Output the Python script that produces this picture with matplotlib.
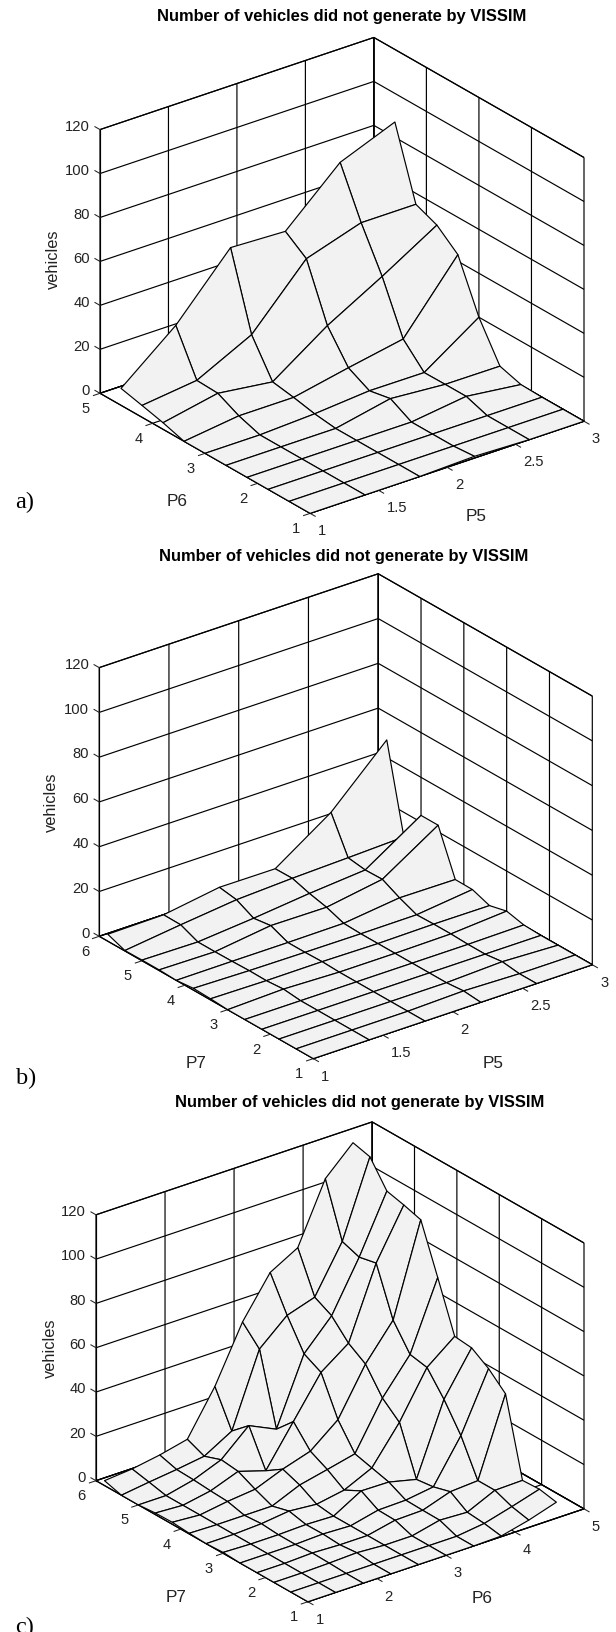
import numpy as np
import matplotlib
matplotlib.use("Agg")
import matplotlib.pyplot as plt
from matplotlib.transforms import Affine2D
from mpl_toolkits.mplot3d import proj3d

plt.rcParams.update({
    'font.family': 'Liberation Sans', 'font.size': 10,
    'grid.color': 'k', 'grid.linewidth': 0.85,
    'axes.linewidth': 0.85, 'xtick.major.width': 0.75, 'ytick.major.width': 0.75,
})

TITLE = 'Number of vehicles did not generate by VISSIM'
Z_TICKS = [0, 20, 40, 60, 80, 100, 120]

P5 = [1, 1.4, 1.8, 2.2, 2.6, 3]
P6 = [1, 1.4, 1.8, 2.2, 2.6, 3, 3.4, 3.8, 4.2, 4.6]
P7 = [1, 1.4, 1.8, 2.2, 2.6, 3, 3.4, 3.8, 4.2, 4.6, 5, 5.4, 5.8]

# rows: P6, columns: P5
Z_A = [
    [0, 0, 0, 0.8, 0, 0],
    [0, 0, 0, 0, 0, 0],
    [0, 0, 0, 0, 0, 0],
    [0, 0, 0, 0, 3.3, 0.3],
    [0, 0, 0, 5.2, 3.3, 3.2],
    [0, 0, 1.2, 3.3, 3.2, 20],
    [0, 3.2, 3.2, 8.3, 13, 43],
    [3, 8, 4.8, 22, 36, 51],
    [5.4, 8.4, 20.8, 47, 55, 55],
    [7.7, 28, 55, 54, 77, 87],
]
# rows: P7, columns: P5
Z_B = [
    [0, 0, 0, 0, 0, 0],
    [0, 0, 0, 0.7, 0, 0],
    [0, 0, 0, 0, 1, 0],
    [0, 0, 0, 0, 0, 0],
    [0, 0, 0, 0, 0, 0.3],
    [0, 0.8, 0, 0, 0.3, 2.1],
    [0.5, 0.2, 0.3, 0, 0.3, 0.2],
    [0.8, 0.3, 0.1, 0, 0.1, 3],
    [0, 0.1, 0.1, 0.3, 3.3, 3.1],
    [0.3, 0, 3.3, 3.1, 7.2, 23],
    [0.3, 0, 2.2, 4.9, 7, 23],
    [0.2, 3.3, 6.1, 7.3, 8.1, 9],
    [3.1, 3.4, 7.3, 7.2, 24, 48],
]
# rows: P7, columns: P6
Z_C = [
    [0, 0, 0, 0, 0, 0, 0, 0.3, 3.3, 7.2],
    [0, 0, 0, 0, 0, 0, 0, 1.6, 5, 8.7],
    [0, 0, 0.3, 0.8, 0, 0, 2.9, 2.3, 8, 8.3],
    [0, 0, 0.5, 0, 0, 2.7, 3, 7.2, 8, 43],
    [0, 0, 0, 0.5, 0, 2.9, 3.2, 5, 24, 50],
    [0.4, 0, 0, 0.4, 0, 7.2, 7, 4, 36, 55],
    [0, 0, 0.6, 2.1, 1, 3.2, 9, 25.4, 46, 55.8],
    [0.3, 0, 0, 0, 5.3, 8.1, 11, 32, 47.5, 78],
    [0.9, 0, 1.9, 3.2, 8.1, 12, 22, 43, 58.6, 99.7],
    [0.7, 0, 2.3, 6.9, 3, 21, 39, 48, 80, 102],
    [0, 0, 2.9, 7.8, 19, 13.2, 43, 56, 78.3, 103.9],
    [0, 1.7, 3.2, 5, 12.2, 45, 56, 60, 81, 115],
    [2.2, 3.3, 5.4, 8.3, 28, 52.9, 71, 78, 105, 117],
]

W, H = 616, 1633
fig = plt.figure(figsize=(W / 100, H / 100), dpi=100, facecolor='white')


def pixel(ax, x, y, z):
    px, py, _ = proj3d.proj_transform(x, y, z, ax.get_proj())
    d = ax.transData.transform((px, py))
    return d[0], H - d[1]


def nudge(ax, artist, dx, dy):
    """Shift a tick or axis label by pixels: mplot3d resets its transform before drawing."""
    offset = Affine2D().translate(dx, -dy)
    draw = artist.draw

    def shifted_draw(renderer):
        artist._transform = ax.transData + offset
        draw(renderer)
    artist.draw = shifted_draw


def panel(xv, yv, zv, xlim, ylim, xticks, yticks, xname, yname,
          corner_left, corner_right, title_xy, shifts):
    S = 6.0
    ax = fig.add_axes([0, 0, S * 100 / W, S * 100 / H], projection='3d',
                      proj_type='ortho', facecolor='none')
    ax.view_init(elev=26, azim=-127.5)
    ax.set_box_aspect((1, 1, 0.85))
    ax.set_xlim(*xlim, view_margin=0)
    ax.set_ylim(*ylim, view_margin=0)
    ax.set_zlim(0, 120, view_margin=0)

    # scale and move the axes so that its floor corners land where they should
    ax.apply_aspect()
    x0, _ = pixel(ax, xlim[0], ylim[1], 0)
    x1, _ = pixel(ax, xlim[1], ylim[0], 0)
    S *= (corner_right - corner_left[0]) / (x1 - x0)
    ax.set_position([0, 0, S * 100 / W, S * 100 / H])
    ax.apply_aspect()
    x0, y0 = pixel(ax, xlim[0], ylim[1], 0)
    ax.set_position([(corner_left[0] - x0) / W, -(corner_left[1] - y0) / H,
                     S * 100 / W, S * 100 / H])
    ax.apply_aspect()

    X, Y = np.meshgrid(xv, yv)
    ax.plot_surface(X, Y, np.array(zv), rstride=1, cstride=1, color='#f2f2f2',
                    edgecolor='k', linewidth=0.85, shade=False, antialiased=True)

    ax.set_xticks(xticks)
    ax.set_yticks(yticks)
    ax.set_zticks(Z_TICKS)
    ax.set_xticklabels([f'{t:g}' for t in xticks])
    ax.set_yticklabels([f'{t:g}' for t in yticks])
    ax.set_zticklabels([str(t) for t in Z_TICKS])
    for axis in (ax.xaxis, ax.yaxis, ax.zaxis):
        axis.set_pane_color((1, 1, 1, 1))
        axis.pane.set_edgecolor('k')
        axis.pane.set_linewidth(0.85)
        axis.line.set_color('k')
        axis.line.set_linewidth(0.85)
        axis.set_rotate_label(False)
    for axis in (ax.xaxis, ax.yaxis):
        axis._axinfo['tick']['inward_factor'] = 0.3
        axis._axinfo['tick']['outward_factor'] = 0.0
    ax.zaxis._axinfo['tick']['inward_factor'] = 0.0
    ax.zaxis._axinfo['tick']['outward_factor'] = 0.3
    ax.zaxis._get_tickdir = lambda position: 1
    ax.tick_params(axis='both', labelsize=10.6, colors='#222222', pad=1)
    ax.tick_params(axis='z', labelsize=10.6, colors='#222222', pad=2)
    ax.set_xlabel(xname, fontsize=12.3, labelpad=6, rotation=0, color='#222222')
    ax.set_ylabel(yname, fontsize=12.3, labelpad=6, rotation=0, color='#222222')
    ax.set_zlabel('vehicles', fontsize=11.8, labelpad=6, rotation=90, color='#222222')

    for t in ax.xaxis.get_major_ticks():
        t.label1.set_ha('left')
        nudge(ax, t.label1, -1.3, -6.6)
    for t in ax.yaxis.get_major_ticks():
        nudge(ax, t.label1, -2.3, -8)
    for t in ax.zaxis.get_major_ticks():
        t.label1.set_ha('right')
        nudge(ax, t.label1, 13.5, -9.4)
    nudge(ax, ax.xaxis.label, *shifts[0])
    nudge(ax, ax.yaxis.label, *shifts[1])
    nudge(ax, ax.zaxis.label, *shifts[2])

    tx, ty = ax.transAxes.inverted().transform((title_xy[0], H - title_xy[1]))
    ax.set_title(TITLE, fontsize=11.9, fontweight='bold', x=tx, y=ty,
                 va='center', ha='center', pad=0)
    ax.title.set_y(ty)
    return ax


panel(P5, P6, Z_A, (1, 3), (1, 5), [1, 1.5, 2, 2.5, 3], [1, 2, 3, 4, 5], 'P5', 'P6',
      (100, 394.3), 584, (342, 17), ((2, -2), (8, 1), (16.5, 0)))
panel(P5, P7, Z_B, (1, 3), (1, 6), [1, 1.5, 2, 2.5, 3], [1, 2, 3, 4, 5, 6], 'P5', 'P7',
      (99.2, 937.3), 592.3, (344, 557), ((13, 1), (25, 19), (15.6, 3)))
panel(P6, P7, Z_C, (1, 5), (1, 6), [1, 2, 3, 4, 5], [1, 2, 3, 4, 5, 6], 'P6', 'P7',
      (96, 1481.7), 584, (360, 1103), ((9, -7.6), (10, 9), (17.8, 3)))

for s, px, py in (('a)', 15.5, 502), ('b)', 15.5, 1078), ('c)', 15.5, 1627)):
    fig.text(px / W, 1 - py / H, s, family='Liberation Serif', fontsize=17.5,
             ha='left', va='center', color='k')

fig.savefig('out.png', dpi=100)
